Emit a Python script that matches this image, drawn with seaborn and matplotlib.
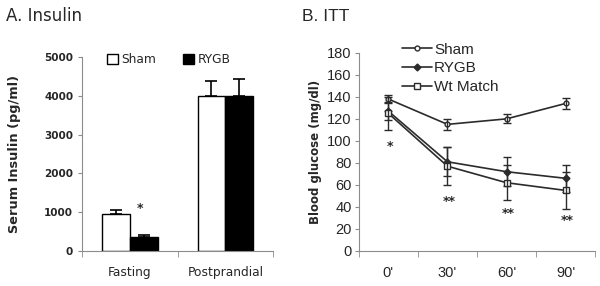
import matplotlib
matplotlib.use("Agg")
import matplotlib.pyplot as plt
import numpy as np
import pandas as pd
import seaborn as sns

# Panel A: serum insulin
insulin_groups = ["Fasting", "Postprandial"]
insulin_sham = [950, 4000]
insulin_sham_err = [100, 380]
insulin_rygb = [370, 4000]
insulin_rygb_err = [50, 440]

# Panel B: insulin tolerance test
itt_times = ["0'", "30'", "60'", "90'"]
itt_sham = [138, 115, 120, 134]
itt_sham_err = [4, 5, 4, 5]
itt_rygb = [127, 81, 72, 66]
itt_rygb_err = [8, 13, 13, 12]
itt_wt = [125, 77, 62, 55]
itt_wt_err = [15, 17, 16, 17]
itt_stars = ["*", "**", "**", "**"]
itt_star_y = [95, 45, 34, 28]

AXIS_GREY = "#8c8c8c"
LINE_COL = "#2b2b2b"

sns.set_style("white")
plt.rcParams["font.family"] = ["DejaVu Sans"]

fig = plt.figure(figsize=(6.0, 2.86), dpi=100)
ax_a = fig.add_axes([0.137, 0.1224, 0.318, 0.678])
ax_b = fig.add_axes([0.598, 0.1224, 0.394, 0.693])

# ---- Panel A
df_a = pd.DataFrame({
    "group": insulin_groups * 2,
    "cond": ["Sham"] * 2 + ["RYGB"] * 2,
    "value": insulin_sham + insulin_rygb,
    "err": insulin_sham_err + insulin_rygb_err,
})
sns.barplot(data=df_a, x="group", y="value", hue="cond", palette={"Sham": "white", "RYGB": "black"},
            edgecolor="black", linewidth=1.0, width=0.58, errorbar=None, ax=ax_a)
for bars, errs in zip(ax_a.containers, [insulin_sham_err, insulin_rygb_err]):
    for bar, e in zip(bars, errs):
        cx = bar.get_x() + bar.get_width() / 2
        ax_a.errorbar(cx, bar.get_height(), yerr=[[0], [e]], color="black", capsize=4,
                      elinewidth=1.2, capthick=1.2)
ax_a.text(0.11, 1100, "*", ha="center", va="center", fontsize=9, fontweight="bold")
ax_a.set_ylim(0, 5000)
ax_a.set_xlim(-0.5, 1.5)
ax_a.set_yticks(range(0, 5001, 1000))
ax_a.tick_params(axis="y", labelsize=7.5, length=3, color=AXIS_GREY, direction="out", left=True)
ax_a.set_xticks([0, 1])
ax_a.set_xticklabels(insulin_groups, fontsize=8.8)
ax_a.tick_params(axis="x", length=0, pad=11)
ax_a.set_xticks([-0.5, 0.5, 1.5], minor=True)
ax_a.tick_params(axis="x", which="minor", length=4, color=AXIS_GREY, direction="out", bottom=True)
for lab in ax_a.get_yticklabels():
    lab.set_fontweight("bold")
ax_a.set_xlabel("")
ax_a.set_ylabel("Serum Insulin (pg/ml)", fontsize=9.3, fontweight="bold")
ax_a.yaxis.set_label_coords(-0.32, 0.5)
sns.despine(ax=ax_a)
for s in ["left", "bottom"]:
    ax_a.spines[s].set_color(AXIS_GREY)
ax_a.legend(loc="center left", bbox_to_anchor=(0.1, 0.985), ncol=2, frameon=False, fontsize=8.8,
            handlelength=0.9, handleheight=0.9, columnspacing=2.2, handletextpad=0.25, borderpad=0)
fig.text(0.01, 0.944, "A. Insulin", fontsize=12, ha="left", va="center")

# ---- Panel B
x = np.arange(len(itt_times))
series = [
    ("Sham", itt_sham, itt_sham_err, "o", "white", 3.5),
    ("RYGB", itt_rygb, itt_rygb_err, "D", LINE_COL, 3.5),
    ("Wt Match", itt_wt, itt_wt_err, "s", "white", 4.5),
]
for name, vals, errs, mk, fc, ms in series:
    sns.lineplot(x=x, y=vals, ax=ax_b, color=LINE_COL, lw=1.2, marker=mk, markersize=ms,
                 markerfacecolor=fc, markeredgecolor=LINE_COL, markeredgewidth=1.0, label=name)
    ax_b.errorbar(x, vals, yerr=errs, fmt="none", ecolor=LINE_COL, capsize=3, elinewidth=1.0,
                  capthick=1.0)
for xi, s, yv in zip(x, itt_stars, itt_star_y):
    ax_b.text(xi + 0.03, yv, s, ha="center", va="center", fontsize=9, fontweight="bold")
ax_b.set_ylim(0, 180)
ax_b.set_xlim(-0.5, 3.5)
ax_b.set_yticks(range(0, 181, 20))
ax_b.tick_params(axis="y", labelsize=10.5, length=3, color=AXIS_GREY, direction="out", left=True,
                 pad=2)
ax_b.set_xticks(x)
ax_b.set_xticklabels(itt_times, fontsize=10.5)
ax_b.tick_params(axis="x", length=0, pad=11)
ax_b.set_xticks([-0.5, 0.5, 1.5, 2.5, 3.5], minor=True)
ax_b.tick_params(axis="x", which="minor", length=4, color=AXIS_GREY, direction="out", bottom=True)
for lab in ax_b.get_yticklabels() + ax_b.get_xticklabels():
    lab.set_family(["Liberation Sans"])
ax_b.set_ylabel("Blood glucose (mg/dl)", fontsize=8.5, fontweight="bold", labelpad=4)
sns.despine(ax=ax_b)
for s in ["left", "bottom"]:
    ax_b.spines[s].set_color(AXIS_GREY)
leg = ax_b.legend(loc="upper left", bbox_to_anchor=(0.15, 1.09), frameon=False,
                  prop={"family": "Liberation Sans", "size": 11}, handlelength=2.0,
                  handletextpad=0.1, labelspacing=0.32, borderpad=0)
fig.text(0.503, 0.944, "B. ITT", fontsize=12.5, ha="left", va="center", family="Liberation Sans")

fig.savefig("out.png", dpi=100)
